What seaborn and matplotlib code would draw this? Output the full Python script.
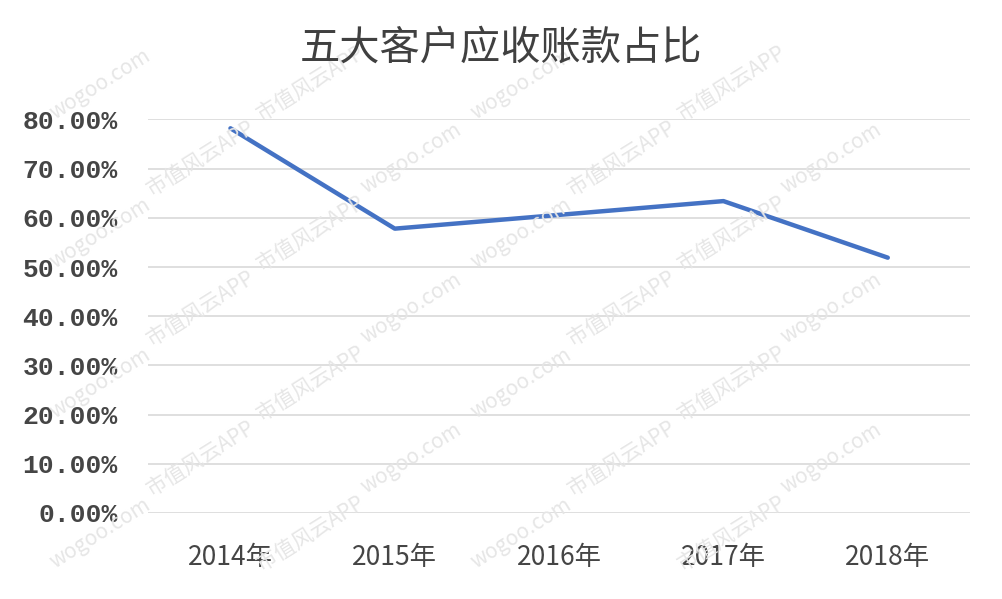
import matplotlib
matplotlib.use("Agg")
import matplotlib.pyplot as plt
import seaborn as sns
import pandas as pd

years = ["2014年", "2015年", "2016年", "2017年", "2018年"]
ratio = [0.782, 0.578, 0.606, 0.634, 0.519]
y_ticks = [0.0, 0.1, 0.2, 0.3, 0.4, 0.5, 0.6, 0.7, 0.8]
title = "五大客户应收账款占比"

sns.set_style("white")
plt.rcParams["font.family"] = ["Noto Sans CJK SC", "DejaVu Sans"]

df = pd.DataFrame({"year": years, "ratio": ratio})

fig = plt.figure(figsize=(10.02, 5.99), dpi=100)
ax = fig.add_axes([0.148, 0.1436, 0.820, 0.657])

# faint watermark, kept well inside the canvas
wm_color = "#e6e6e6"
for row in range(0, 7):
    for col in range(0, 5):
        x = 0.10 + col * 0.21 + (row % 2) * 0.10
        y = 0.11 + row * 0.125
        if x > 0.92 or y > 0.9:
            continue
        txt = "wogoo.com" if (row + col) % 2 == 0 else "市值风云APP"
        fig.text(x, y, txt, rotation=32, fontsize=15, color=wm_color,
                 family=["Noto Sans CJK SC", "DejaVu Sans"], zorder=0,
                 ha="center", va="center")

sns.lineplot(data=df, x="year", y="ratio", ax=ax, color="#4472C4",
             linewidth=3.2, sort=False, zorder=3)

ax.set_xlim(-0.5, len(years) - 0.5)
ax.set_ylim(0, 0.8)
ax.set_yticks(y_ticks)
ax.set_yticklabels([f"{v * 100:.2f}%" for v in y_ticks],
                   family=["Liberation Mono", "DejaVu Sans Mono"],
                   fontsize=19, color="#454545", fontweight="bold")
for lab in ax.get_xticklabels():
    lab.set_fontsize(19)
    lab.set_color("#454545")
ax.tick_params(axis="y", length=0, pad=22)
ax.tick_params(axis="x", length=0, pad=22)
ax.grid(axis="y", color="#d9d9d9", linewidth=1.2)
ax.set_axisbelow(True)
ax.patch.set_alpha(0)
for s in ax.spines.values():
    s.set_visible(False)
ax.set_xlabel("")
ax.set_ylabel("")

fig.text(0.5, 0.92, title, ha="center", va="center", fontsize=29,
         color="#404040")

fig.savefig("out.png", dpi=100)
